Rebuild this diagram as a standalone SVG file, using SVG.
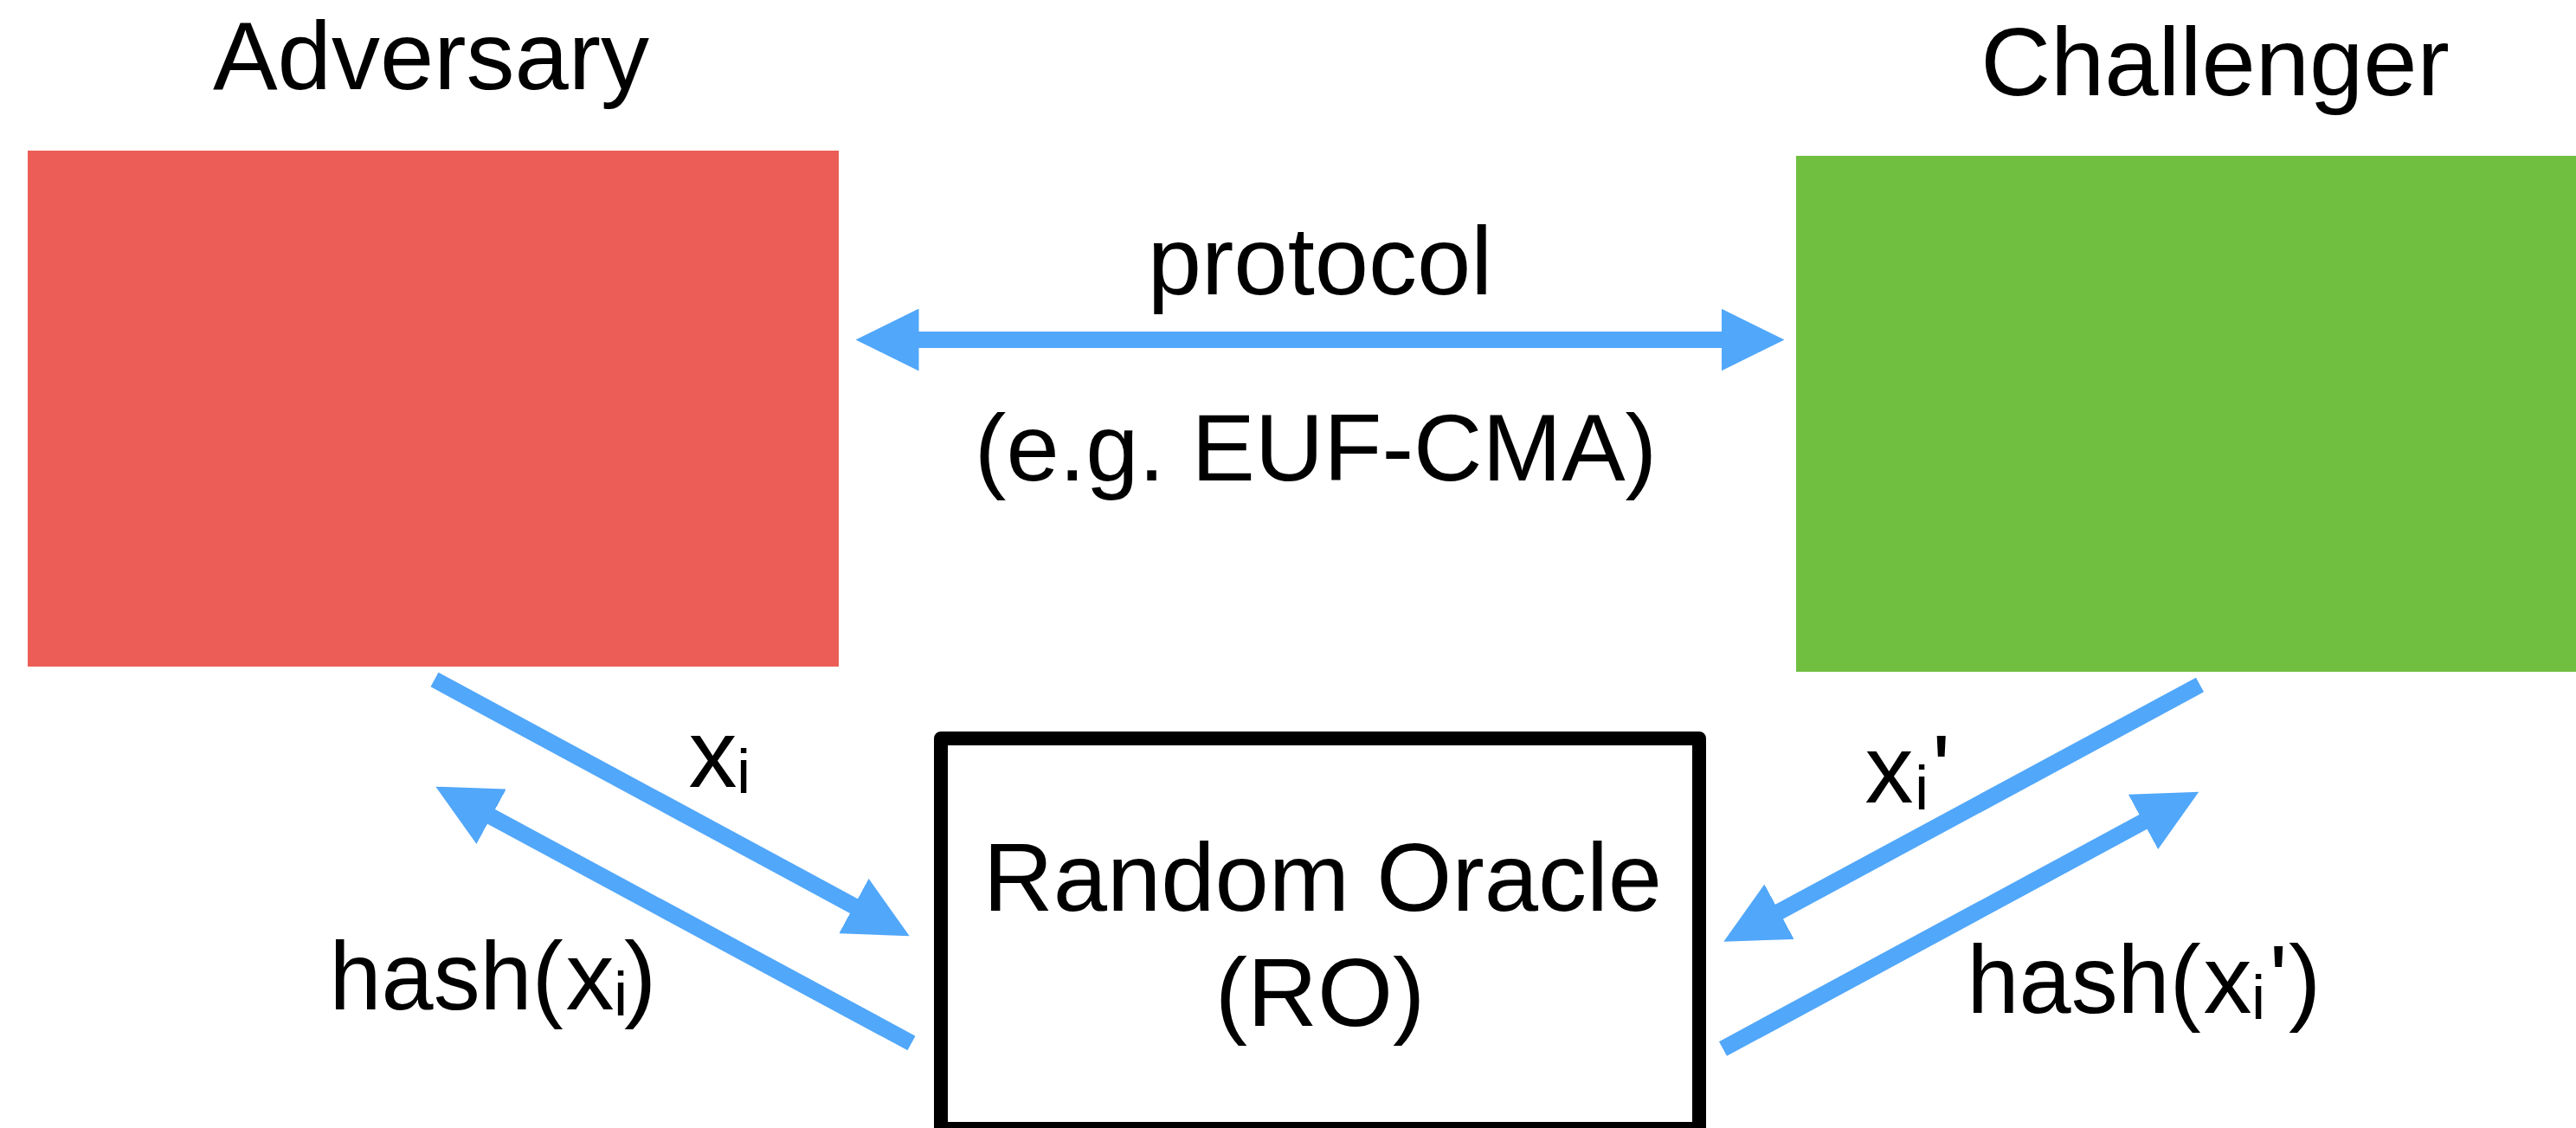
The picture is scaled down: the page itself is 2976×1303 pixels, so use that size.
<svg xmlns="http://www.w3.org/2000/svg" width="2976" height="1303" viewBox="0 0 2976 1303">
<style>
text{font-family:"Liberation Sans",Arial,Helvetica,sans-serif;font-size:112px;fill:#000}
.sub{font-size:73px}
.conn{stroke:#51A7F9;stroke-width:19;fill:none;stroke-linecap:butt}
</style>
<defs>
<marker id="ah" markerUnits="userSpaceOnUse" markerWidth="74" markerHeight="72" refX="1.5" refY="36" orient="auto-start-reverse" viewBox="0 0 74 72">
<path d="M0,0 L73,36 L0,72 z" fill="#51A7F9"/>
</marker>
</defs>
<rect width="2976" height="1303" fill="#fff"/>
<g id="adversary">
<rect x="32" y="174" width="937" height="596" fill="#EC5D57"/>
<text x="498" y="103" text-anchor="middle">Adversary</text>
</g>
<g id="challenger">
<rect x="2075" y="180" width="901" height="596" fill="#70BF41"/>
<text x="2559" y="110" text-anchor="middle">Challenger</text>
</g>
<g id="random-oracle">
<rect x="1087" y="853" width="876" height="451" fill="#fff" stroke="#000" stroke-width="16" stroke-linejoin="round"/>
<text x="1528" y="1052" text-anchor="middle">Random Oracle</text>
<text x="1525" y="1185" text-anchor="middle">(RO)</text>
</g>
<g id="connectors">
<line class="conn" x1="1060" y1="392.5" x2="1990" y2="392.5" marker-start="url(#ah)" marker-end="url(#ah)"/>
<line class="conn" x1="502" y1="785" x2="987.8" y2="1047.3" marker-end="url(#ah)"/>
<line class="conn" x1="1053" y1="1205" x2="566.3" y2="942.6" marker-end="url(#ah)"/>
<line class="conn" x1="2541.5" y1="791" x2="2054.2" y2="1053.9" marker-end="url(#ah)"/>
<line class="conn" x1="1990.5" y1="1211.5" x2="2477.3" y2="948.7" marker-end="url(#ah)"/>
<text x="1525" y="340" text-anchor="middle">protocol</text>
<text x="1520" y="555" text-anchor="middle" style="font-size:110px">(e.g. EUF-CMA)</text>
<text><tspan x="795.5" y="909">x</tspan><tspan class="sub" x="851" y="916">i</tspan></text>
<text><tspan x="380.6" y="1166" textLength="270" lengthAdjust="spacingAndGlyphs">hash(</tspan><tspan x="653.5" y="1166">x</tspan><tspan class="sub" x="709" y="1173">i</tspan><tspan x="721" y="1166">)</tspan></text>
<text><tspan x="2154.5" y="927">x</tspan><tspan class="sub" x="2212" y="934.5">i</tspan><tspan x="2232" y="927">'</tspan></text>
<text><tspan x="2272.6" y="1170" textLength="270" lengthAdjust="spacingAndGlyphs">hash(</tspan><tspan x="2545.5" y="1170">x</tspan><tspan class="sub" x="2601" y="1177">i</tspan><tspan x="2621.4" y="1170">'</tspan><tspan x="2644" y="1170">)</tspan></text>
</g>
</svg>
